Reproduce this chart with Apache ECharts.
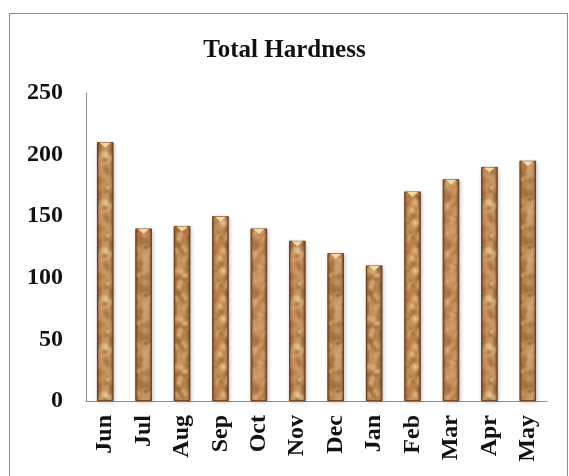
<!DOCTYPE html>
<html>
<head>
<meta charset="utf-8">
<script src="https://cdn.jsdelivr.net/npm/echarts@6/dist/echarts.min.js"></script>
<style>
  html, body { margin: 0; padding: 0; background: #fff; }
  #frame { position: absolute; left: 9px; top: 13px; width: 559px; height: 470px; border: 1px solid #8c8c8c; border-bottom: none; box-sizing: border-box; }
  #chart { position: absolute; left: 0; top: 0; width: 569px; height: 476px; }
</style>
</head>
<body>
<div id="frame"></div>
<div id="chart"></div>
<script>
const months = ['Jun', 'Jul', 'Aug', 'Sep', 'Oct', 'Nov', 'Dec', 'Jan', 'Feb', 'Mar', 'Apr', 'May'];
const hardness = [210, 140, 142, 150, 140, 130, 120, 110, 170, 180, 190, 195];
const yTicks = [0, 50, 100, 150, 200, 250];

// Soft granite-like tan texture for the bar fill (seeded so it is stable between renders)
function makeTexture() {
  const c = document.createElement('canvas');
  c.width = 48; c.height = 48;
  const ctx = c.getContext('2d');
  ctx.fillStyle = '#cc9763';
  ctx.fillRect(0, 0, 48, 48);
  let s = 12345;
  const rnd = () => { s = (s * 16807) % 2147483647; return s / 2147483647; };
  const tones = ['#9a6535', '#b07844', '#e4b987', '#efcfa0', '#bd8652', '#8a5a2e'];
  ctx.filter = 'blur(0.8px)';
  for (let i = 0; i < 220; i++) {
    ctx.fillStyle = tones[Math.floor(rnd() * tones.length)];
    ctx.globalAlpha = 0.3 + rnd() * 0.45;
    const r = 1 + rnd() * 2.4;
    const x = rnd() * 48, y = rnd() * 48;
    // draw with wrap-around so the tile repeats seamlessly
    for (const dx of [-48, 0, 48]) for (const dy of [-48, 0, 48]) {
      ctx.beginPath();
      ctx.arc(x + dx, y + dy, r, 0, Math.PI * 2);
      ctx.fill();
    }
  }
  return c;
}

const chart = echarts.init(document.getElementById('chart'), null, { renderer: 'canvas' });
const serif = '"Liberation Serif", "Times New Roman", serif';

chart.setOption({
  animation: false,
  backgroundColor: 'transparent',
  title: {
    text: 'Total Hardness',
    left: 'center',
    top: 33,
    textStyle: { fontFamily: serif, fontWeight: 'bold', fontSize: 25, color: '#111' }
  },
  grid: { left: 86, right: 22, top: 93, bottom: 75 },
  xAxis: {
    type: 'category',
    data: months,
    axisLine: { lineStyle: { color: '#8c8c8c', width: 1 } },
    axisTick: { show: false },
    axisLabel: {
      rotate: 90, margin: 14,
      fontFamily: serif, fontWeight: 'bold', fontSize: 24, color: '#111'
    }
  },
  yAxis: {
    type: 'value',
    min: yTicks[0],
    max: yTicks[yTicks.length - 1],
    interval: 50,
    axisLine: { show: true, lineStyle: { color: '#8c8c8c', width: 1 } },
    axisTick: { show: false },
    splitLine: { show: false },
    axisLabel: {
      margin: 23,
      fontFamily: serif, fontWeight: 'bold', fontSize: 24, color: '#111'
    }
  },
  series: [
    {
      type: 'bar',
      data: hardness,
      barWidth: '43%',
      itemStyle: {
        color: { image: makeTexture(), repeat: 'repeat' },
        borderColor: '#7b4b24',
        borderWidth: 1,
        shadowColor: 'rgba(0,0,0,0.22)',
        shadowBlur: 4,
        shadowOffsetX: 1,
        shadowOffsetY: 1
      }
    },
    {
      // darker bevelled edges on each bar
      type: 'bar',
      data: hardness,
      barWidth: '43%',
      barGap: '-100%',
      silent: true,
      itemStyle: {
        color: {
          type: 'linear', x: 0, y: 0, x2: 1, y2: 0,
          colorStops: [
            { offset: 0, color: 'rgba(80,45,15,0.55)' },
            { offset: 0.22, color: 'rgba(80,45,15,0)' },
            { offset: 0.78, color: 'rgba(80,45,15,0)' },
            { offset: 1, color: 'rgba(80,45,15,0.55)' }
          ]
        }
      }
    },
    {
      // small bevel highlight at the top of each bar
      type: 'scatter',
      data: hardness,
      symbol: 'path://M0,0 L10,0 L5,5 Z',
      symbolSize: [11, 5],
      symbolOffset: [0, 3],
      itemStyle: { color: '#f6dca6', opacity: 0.95 },
      silent: true,
      z: 3
    }
  ]
});
</script>
</body>
</html>
